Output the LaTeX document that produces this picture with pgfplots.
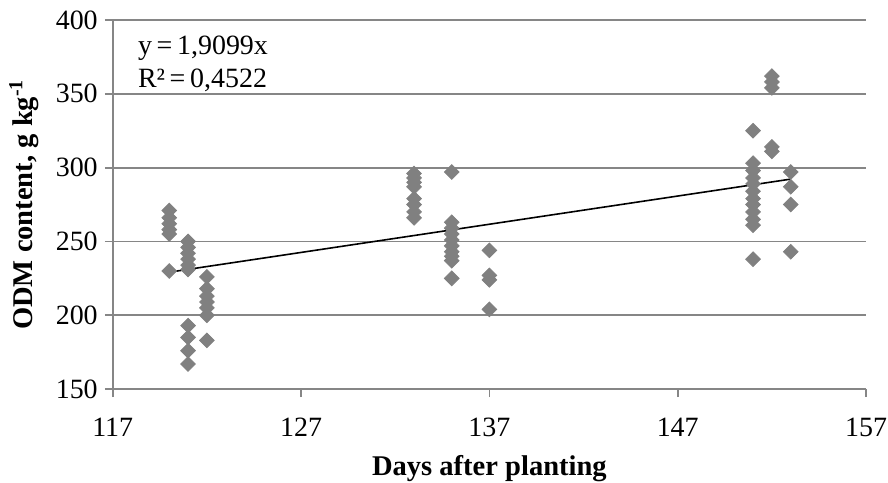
\documentclass[border=0pt]{standalone}
\usepackage{pgfplots}
\pgfplotsset{compat=1.18}
\usepackage{fontspec}
\setmainfont{Liberation Serif}
\definecolor{ptgray}{RGB}{128,128,128}
\definecolor{axgray}{RGB}{134,134,134}
\begin{document}
\begin{tikzpicture}
\begin{axis}[
  scale only axis,
  width=377.5pt, height=185pt,
  xmin=117, xmax=157, ymin=150, ymax=400,
  xtick={117,127,137,147,157},
  ytick={150,200,250,300,350,400},
  axis lines*=left,
  axis line style={axgray, line width=0.9pt},
  ymajorgrids,
  grid style={axgray, line width=0.9pt},
  tick style={axgray, line width=0.9pt},
  tick align=outside,
  major tick length=4pt,
  /pgf/number format/assume math mode=true,
  /pgf/number format/1000 sep={},
  ticklabel style={font=\fontsize{14}{16}\selectfont},
  xticklabel style={yshift=-7pt},
  xlabel={\textbf{Days after planting}},
  ylabel={\textbf{ODM content, g kg\textsuperscript{-1}}},
  label style={font=\fontsize{14.3}{16}\selectfont},
  xlabel style={at={(axis description cs:0.5,-0.235)}, anchor=base},
  ylabel style={at={(axis description cs:-0.106,0.5)}, anchor=base, rotate=0},
  clip=false,
]
\addplot[only marks, mark=square*, mark size=2.6pt, mark options={rotate=45, fill=ptgray, draw=ptgray}] coordinates {
(120,271)(120,266)(120,262)(120,258)(120,255)(120,230)
(121,250)(121,246)(121,242)(121,238)(121,234)(121,231)
(121,193)(121,185)(121,176)(121,167)
(122,226)(122,218)(122,213)(122,209)(122,205)(122,200)(122,183)
(133,296)(133,293)(133,290)(133,287)(133,279)(133,275)(133,270)(133,266)
(135,297)(135,263)(135,259)(135,255)(135,251)(135,247)(135,243)(135,240)(135,237)(135,225)
(137,244)(137,227)(137,224)(137,204)
(151,325)(151,303)(151,298)(151,293)(151,289)(151,284)(151,279)(151,275)(151,270)(151,265)(151,261)(151,238)
(152,362)(152,358)(152,354)(152,314)(152,311)
(153,297)(153,287)(153,275)(153,243)
};
\addplot[black, line width=0.8pt] coordinates {(120,229.19)(153,292.21)};
\node[anchor=north west, align=left, inner sep=0pt, font=\fontsize{14}{16.5}\selectfont] at ([xshift=12.5pt,yshift=-8pt]rel axis cs:0,1) {y\,=\,1,9099x\\R²\,=\,0,4522};
\end{axis}
\pgfresetboundingbox
\path[use as bounding box] ([xshift=-56.5pt,yshift=-47pt]current axis.south west) rectangle ([xshift=11pt,yshift=10pt]current axis.north east);
\end{tikzpicture}
\end{document}
